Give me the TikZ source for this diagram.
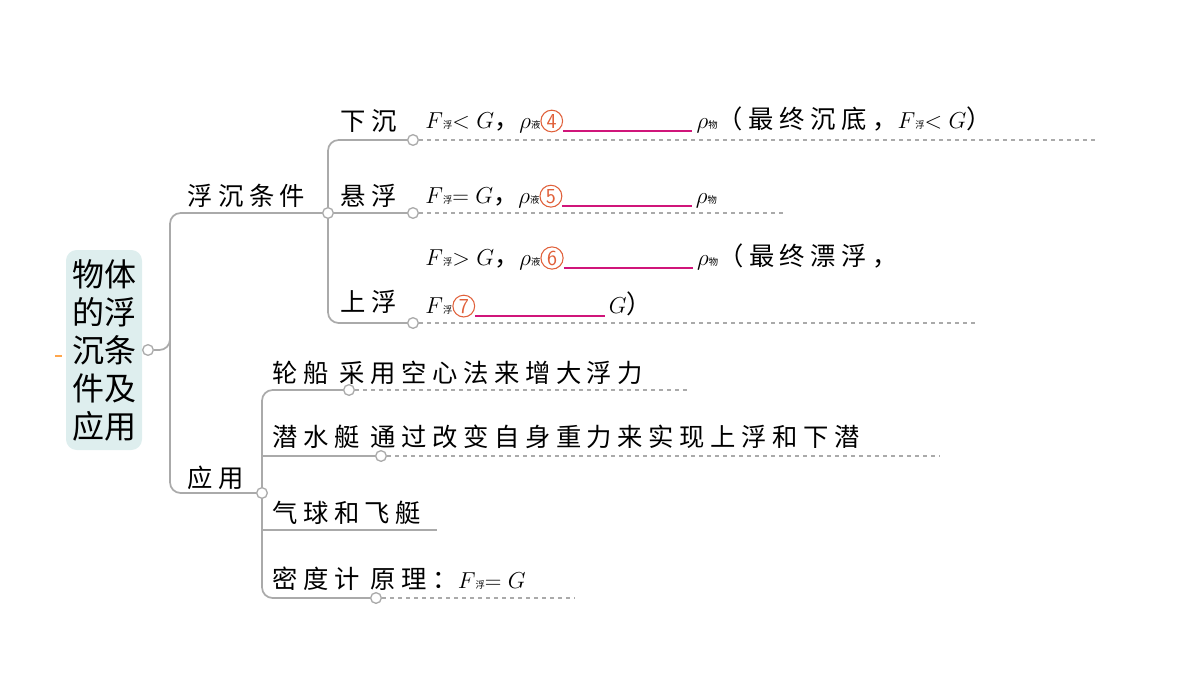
\documentclass[tikz,border=0pt]{standalone}
\usepackage{fontspec}
\newfontfamily\cjk{Noto Sans CJK SC}
\newfontfamily\cjks[LetterSpace=22]{Noto Sans CJK SC}
\DeclareMathSizes{19}{19}{12}{9}
\usetikzlibrary{calc}
\definecolor{ln}{HTML}{AAAAAA}
\definecolor{orn}{HTML}{E0603A}
\definecolor{mag}{HTML}{D0157A}
\newcommand{\cn}[1]{\tikz[baseline=(c.base)]\node[circle,draw=orn,text=orn,line width=0.8pt,inner sep=1.2pt,font=\fontsize{16}{16}\selectfont\sffamily](c){#1};}
\newcommand{\blk}[1]{\textcolor{mag}{\rule[-3pt]{#1pt}{1.3pt}}}
\newcommand{\sbz}[1]{{\fontsize{7}{7}\selectfont\cjk #1}}
\newcommand{\fz}{\fontsize{19}{19}\selectfont}
\begin{document}
\begin{tikzpicture}[x=0.75pt,y=-0.75pt,
  br/.style={draw=ln,line width=1.3pt,rounded corners=8pt},
  dl/.style={draw=ln,dashed,line width=1pt},
  dot/.style={circle,draw=ln,fill=white,line width=1pt,inner sep=0pt,minimum size=8pt},
  lab/.style={anchor=base west,inner sep=0pt,font=\fontsize{19}{19}\selectfont\cjks},
  fm/.style={anchor=base west,inner sep=0pt,font=\fz}]
\useasboundingbox (0,0) rectangle (1200,675);
% root
\node[fill=teal!13!white,rounded corners=8pt,minimum width=57pt,minimum height=150pt,inner sep=1pt,align=center,font=\fontsize{24}{28.5}\selectfont\cjk] (root) at (104,350) {物体\\的浮\\沉条\\件及\\应用};
\draw[orange!70,line width=2pt] (55,356) -- (62,356);
\coordinate (r0) at (148,350);
\node[dot] (rd) at (r0) {};
% main branches
\draw[br] (rd) -- (170,350) |- (328,213);
\draw[br] (170,340) |- (262,493);
\node[lab] (fc) at (187,205) {浮沉条件};
\node[lab] (yy) at (187,487) {应用};
% float branch
\draw[br] (328,213) -- (413,213);
\draw[br] (328,220) |- (413,140);
\draw[br] (328,210) |- (413,323);
\node[dot] (d0) at (328,213) {};
\node[dot] (d1) at (413,140) {};
\node[dot] (d2) at (413,213) {};
\node[dot] (d3) at (413,323) {};
\draw[dl] (d1) -- (1095,140);
\draw[dl] (d2) -- (785,213);
\draw[dl] (d3) -- (975,323);
\node[lab] at (340,130) {下沉};
\node[lab] at (340,205) {悬浮};
\node[lab] at (340,311) {上浮};
\node[fm] at (425,128) {\fz$F$\sbz{浮}$<G$\cjk，$\rho$\sbz{液}\cn{4}\blk{97}\,$\rho$\sbz{物}\cjks（最终沉底，$F$\sbz{浮}$<G$）};
\node[fm] at (425,203) {\fz$F$\sbz{浮}$=G$\cjk，$\rho$\sbz{液}\cn{5}\blk{97}\,$\rho$\sbz{物}};
\node[fm] at (425,265) {\fz$F$\sbz{浮}$>G$\cjk，$\rho$\sbz{液}\cn{6}\blk{97}\,$\rho$\sbz{物}\cjks（最终漂浮，};
\node[fm] at (425,313) {\fz$F$\sbz{浮}\cn{7}\blk{97}\,$G$\cjk）};
% application branch
\draw[br] (262,500) |- (349,390);
\draw[br] (262,480) |- (376,598);
\draw[br] (262,456) -- (381,456);
\draw[br] (262,530) -- (437,530);
\node[dot] (e0) at (262,493) {};
\node[dot] (e1) at (349,390) {};
\node[dot] (e2) at (381,456) {};
\node[dot] (e4) at (376,598) {};
\draw[dl] (e1) -- (690,390);
\draw[dl] (e2) -- (940,456);
\draw[dl] (e4) -- (575,598);
\node[lab] at (272,382) {轮船\ 采用空心法来增大浮力};
\node[lab] at (272,446) {潜水艇\ 通过改变自身重力来实现上浮和下潜};
\node[lab] at (272,522) {气球和飞艇};
\node[lab] at (272,588) {密度计\ 原理：{\fz$F$\sbz{浮}$=G$}};
\end{tikzpicture}
\end{document}
